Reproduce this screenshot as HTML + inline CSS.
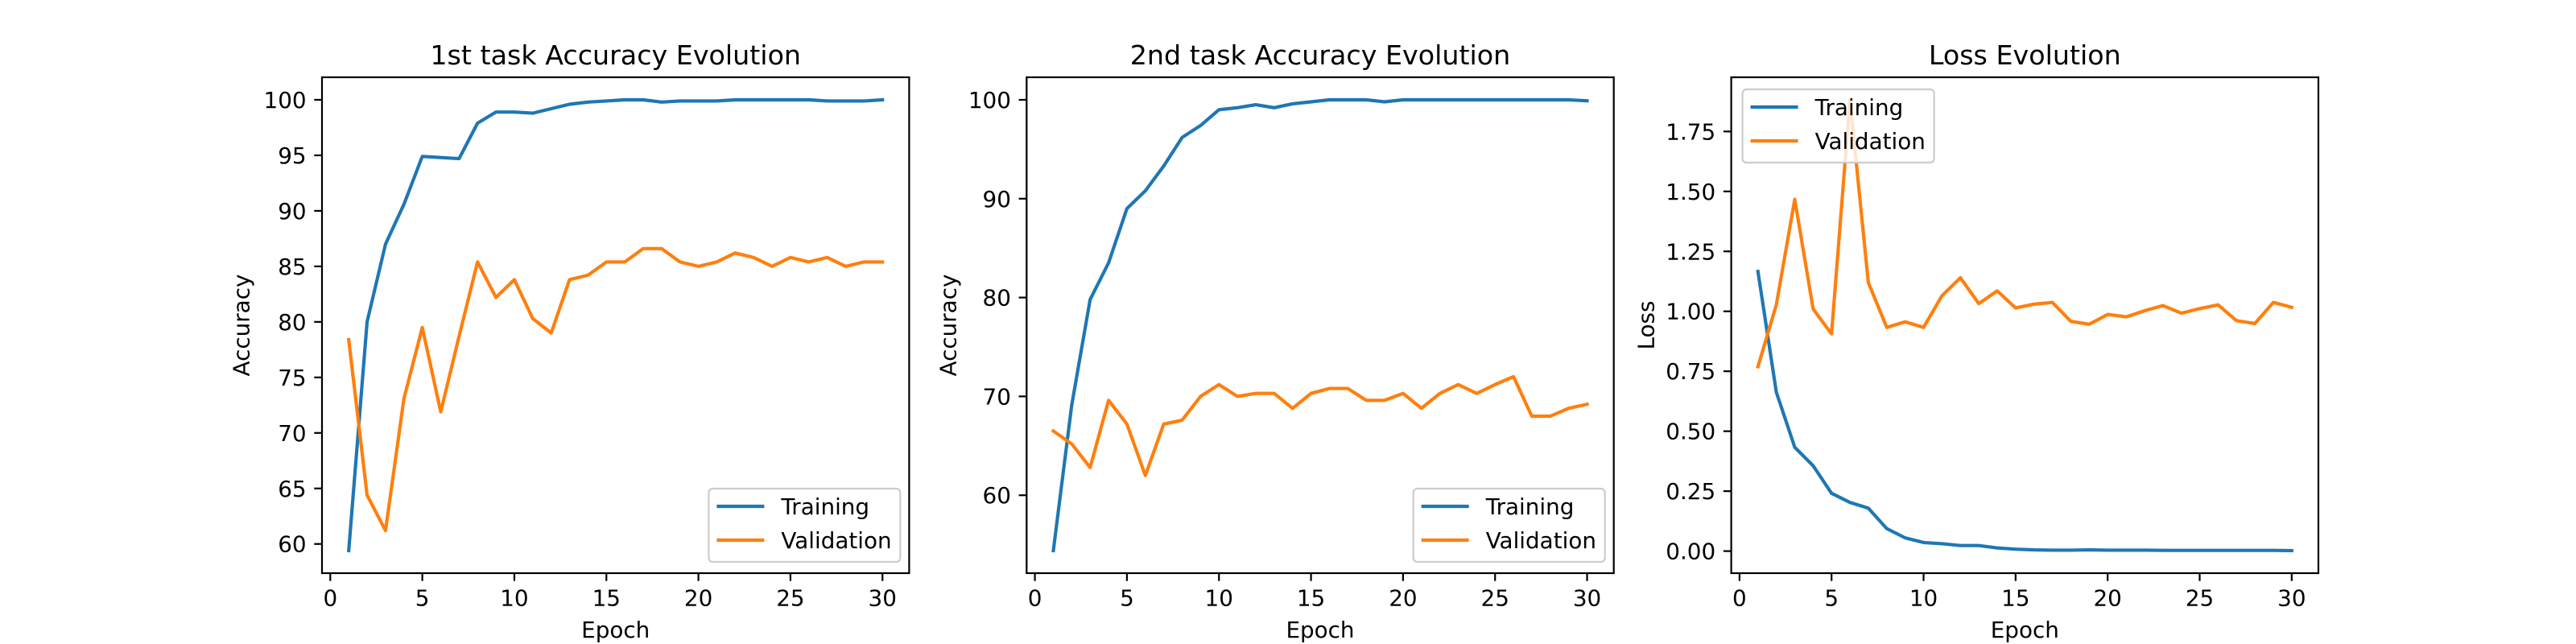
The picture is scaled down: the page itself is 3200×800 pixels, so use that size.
<!DOCTYPE html>
<html><head><meta charset="utf-8"><style>
html,body{margin:0;padding:0;background:#fff}
svg{display:block;font-family:"DejaVu Sans","Liberation Sans",sans-serif}
</style></head><body>
<svg id="fig" width="3200" height="800" viewBox="0 0 3200 800" xmlns="http://www.w3.org/2000/svg">
<rect x="0" y="0" width="3200" height="800" fill="#fff"/>
</svg>
<script>
const epochs = [1,2,3,4,5,6,7,8,9,10,11,12,13,14,15,16,17,18,19,20,21,22,23,24,25,26,27,28,29,30];
const acc1Train = [59.4,80.0,87.0,90.6,94.9,94.8,94.7,97.9,98.9,98.9,98.8,99.2,99.6,99.8,99.9,100,100,99.8,99.9,99.9,99.9,100,100,100,100,100,99.9,99.9,99.9,100];
const acc1Val = [78.4,64.4,61.2,73.1,79.5,71.9,78.7,85.4,82.2,83.8,80.3,79.0,83.8,84.2,85.4,85.4,86.6,86.6,85.4,85.0,85.4,86.2,85.8,85.0,85.8,85.4,85.8,85.0,85.4,85.4];
const acc2Train = [54.4,69.1,79.8,83.5,89.0,90.8,93.3,96.2,97.4,99.0,99.2,99.5,99.2,99.6,99.8,100,100,100,99.8,100,100,100,100,100,100,100,100,100,100,99.9];
const acc2Val = [66.5,65.2,62.8,69.6,67.2,62.0,67.2,67.6,70.0,71.2,70.0,70.3,70.3,68.8,70.3,70.8,70.8,69.6,69.6,70.3,68.8,70.3,71.2,70.3,71.2,72.0,68.0,68.0,68.8,69.2];
const lossTrain = [1.166,0.663,0.433,0.356,0.241,0.203,0.179,0.094,0.055,0.036,0.031,0.023,0.023,0.013,0.008,0.005,0.004,0.004,0.005,0.004,0.004,0.004,0.003,0.003,0.003,0.003,0.003,0.003,0.003,0.002];
const lossVal = [0.769,1.027,1.467,1.009,0.906,1.882,1.120,0.933,0.956,0.933,1.065,1.140,1.032,1.085,1.014,1.030,1.037,0.958,0.946,0.987,0.977,1.002,1.024,0.992,1.011,1.027,0.961,0.949,1.037,1.017];
const xTicks = [0,5,10,15,20,25,30];
const yTicks1 = [60,65,70,75,80,85,90,95,100];
const yTicks2 = [60,70,80,90,100];
const yTicks3 = [0,0.25,0.5,0.75,1.0,1.25,1.5,1.75];
const yTickLabels3 = ["0.00","0.25","0.50","0.75","1.00","1.25","1.50","1.75"];
const titles = ["1st task Accuracy Evolution","2nd task Accuracy Evolution","Loss Evolution"];
const yLabels = ["Accuracy","Accuracy","Loss"];

const NS="http://www.w3.org/2000/svg";
const svg=document.getElementById('fig');
function mk(tag,attrs,parent){const e=document.createElementNS(NS,tag);for(const k in attrs)e.setAttribute(k,attrs[k]);(parent||svg).appendChild(e);return e;}
const FS=27.8, TOP=96, BOT=712, W=729.4;
const lefts=[400,1275.3,2150.6];
const C1="#1f77b4", C2="#ff7f0e";

function panel(i, train, val, yTicks, yTickLabels, legendPos, ylabX){
  const L=lefts[i], R=L+W;
  const g=mk('g',{});
  
  
  const xmin=Math.min(...epochs), xmax=Math.max(...epochs);
  const xr=xmax-xmin, x0=xmin-0.05*xr, x1=xmax+0.05*xr;
  const all=train.concat(val);
  const ymn=Math.min(...all), ymx=Math.max(...all), yr=ymx-ymn;
  const y0=ymn-0.05*yr, y1=ymx+0.05*yr;
  const sx=v=>L+(v-x0)/(x1-x0)*W;
  const sy=v=>BOT-(v-y0)/(y1-y0)*(BOT-TOP);
  // title
  const t=mk('text',{x:(L+R)/2,y:80,'text-anchor':'middle','font-size':33.3,fill:'#000'},g);
  t.textContent=titles[i];
  
  
  // ticks x
  xTicks.forEach(v=>{
    const x=sx(v);
    mk('line',{x1:x,x2:x,y1:BOT,y2:BOT+9.7,stroke:'#000','stroke-width':2.2},g);
    const tt=mk('text',{x:x,y:BOT+19.4+FS*0.76,'text-anchor':'middle','font-size':FS,fill:'#000'},g);
    tt.textContent=String(v);
    
    
  });
  yTicks.forEach((v,k)=>{
    const y=sy(v);
    mk('line',{x1:L-9.7,x2:L,y1:y,y2:y,stroke:'#000','stroke-width':2.2},g);
    const tt=mk('text',{x:L-19.4,y:y+FS*0.36,'text-anchor':'end','font-size':FS,fill:'#000'},g);
    tt.textContent=yTickLabels?yTickLabels[k]:String(v);
    
    
  });
  const xl=mk('text',{x:(L+R)/2,y:792,'text-anchor':'middle','font-size':FS,fill:'#000'},g);
  xl.textContent='Epoch';
  
  
  const yl=mk('text',{x:ylabX,y:(TOP+BOT)/2,'text-anchor':'middle','font-size':FS,fill:'#000',transform:`rotate(-90 ${ylabX} ${(TOP+BOT)/2})`,'dominant-baseline':'central'},g);
  yl.textContent=yLabels[i];
  
  
  // lines
  const clipId='clip'+i;
  const cp=mk('clipPath',{id:clipId},g); mk('rect',{x:L,y:TOP,width:W,height:BOT-TOP},cp);
  [[train,C1,'training-line'],[val,C2,'validation-line']].forEach(([arr,c,nm])=>{
    const pts=arr.map((v,j)=>sx(epochs[j]).toFixed(1)+','+sy(v).toFixed(1)).join(' ');
    const p=mk('polyline',{points:pts,fill:'none',stroke:c,'stroke-width':4.17,'stroke-linejoin':'round','stroke-linecap':'square','clip-path':`url(#${clipId})`},g);
    
    
  });
  mk('rect',{x:L,y:TOP,width:W,height:BOT-TOP,fill:'none',stroke:'#000','stroke-width':2.2},g);
  // legend
  const lw=238, lh=91;
  let lx,ly;
  if(legendPos==='lr'){lx=R-11-lw; ly=BOT-14-lh;} else {lx=L+14; ly=TOP+15;}
  const lg=mk('g',{},g);
  
  
  mk('rect',{x:lx,y:ly,width:lw,height:lh,rx:5,fill:'#fff','fill-opacity':0.8,stroke:'#ccc','stroke-width':2.2},lg);
  [['Training',C1,22],['Validation',C2,64]].forEach(([lab,c,dy])=>{
    const e=mk('g',{},lg);
    
    
    mk('line',{x1:lx+10,x2:lx+69,y1:ly+dy,y2:ly+dy,stroke:c,'stroke-width':4.17},e);
    const tt=mk('text',{x:lx+90,y:ly+dy+FS*0.36,'font-size':FS,fill:'#000'},e);
    tt.textContent=lab;
  });
}
panel(0,acc1Train,acc1Val,yTicks1,null,'lr',300);
panel(1,acc2Train,acc2Val,yTicks2,null,'lr',1178);
panel(2,lossTrain,lossVal,yTicks3,yTickLabels3,'ul',2045);
</script>
</body></html>
